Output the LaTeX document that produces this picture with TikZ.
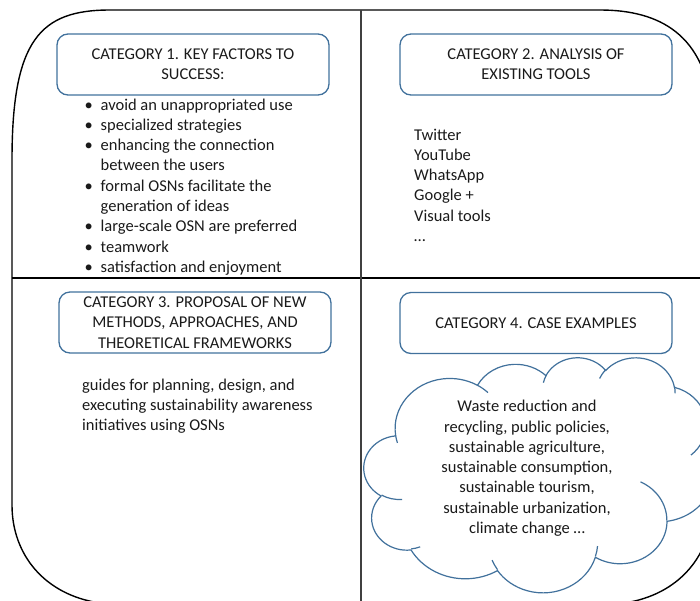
\documentclass[tikz,border=0pt]{standalone}
\usepackage{fontspec}
\setmainfont{Carlito}
\definecolor{boxblue}{HTML}{41719C}
\definecolor{txtcol}{HTML}{1A1A1A}
\definecolor{divgray}{HTML}{404040}
\def\cloudX{364}
\def\cloudY{357}
\def\cloudW{350}
\def\cloudH{235}
% OOXML arcTo: wR hR (1/43200 units), start & sweep (visual degrees)
\newcommand\ooarcset[4]{%
  \pgfmathsetmacro\oorx{#1/432*\cloudW/100}%
  \pgfmathsetmacro\oory{#2/432*\cloudH/100}%
  \pgfmathsetmacro\oodA{atan2(#1*sin(#3),#2*cos(#3))-(#3)}%
  \pgfmathsetmacro\oodA{\oodA-360*round(\oodA/360)}%
  \pgfmathsetmacro\ooeB{(#3)+(#4)}%
  \pgfmathsetmacro\oodB{atan2(#1*sin(\ooeB),#2*cos(\ooeB))-\ooeB}%
  \pgfmathsetmacro\oodB{\oodB-360*round(\oodB/360)}%
  \pgfmathsetmacro\ooa{(#3)+\oodA}%
  \pgfmathsetmacro\oob{\ooeB+\oodB}%
  \global\let\ooRX\oorx \global\let\ooRY\oory
  \global\let\ooA\ooa \global\let\ooB\oob}
\tikzset{
  txtfont/.style={font=\fontsize{16.5}{20.3}\selectfont, text=txtcol, inner sep=0pt},
  catbox/.style={draw=boxblue, line width=1.3pt, rounded corners=11pt,
    minimum width=272pt, minimum height=61pt, align=center, txtfont},
  listtext/.style={txtfont, align=left, anchor=base west},
  cloudtext/.style={txtfont, align=center, anchor=base},
  cloudline/.style={draw=boxblue, line width=1.2pt},
  outerline/.style={draw=black, line width=1.4pt},
  vdivider/.style={draw=divgray, line width=2pt},
  hdivider/.style={draw=black, line width=1.5pt},
  ooarc/.style={start angle=\ooA, end angle=\ooB, x radius=\ooRX, y radius=\ooRY}
}
\newcommand\hookarc[6]{\ooarcset{#3}{#4}{#5}{#6}%
  \draw[cloudline] ({\cloudX+#1/43.2*\cloudW},{\cloudY+#2/43.2*\cloudH}) arc[ooarc];}
\begin{document}
\begin{tikzpicture}[x=1pt, y=1pt, yscale=-1]
\useasboundingbox (0,0) rectangle (700,600);
% outer frame
\draw[outerline] (12,160) -- (12,505) .. controls (12,555) and (45,595) .. (100,603)
  -- (624,603) .. controls (679,595) and (712,555) .. (712,505)
  -- (712,110) .. controls (705,35) and (660,10) .. (600,10)
  -- (110,10) .. controls (40,10) and (12,40) .. (12,160) -- cycle;
% dividers
\coordinate (vtop) at (361,10);
\coordinate (vbot) at (361,603);
\coordinate (hleft) at (12,278);
\coordinate (hright) at (712,278);
\draw[hdivider] (hleft) -- (hright);
\draw[vdivider] (vtop) -- (vbot);
% cloud
\draw[cloudline, fill=white] ({\cloudX+3.900/43.2*\cloudW},{\cloudY+14.370/43.2*\cloudH})
  \pgfextra{\ooarcset{6753}{9190}{-190.487}{123.781}} arc[ooarc]
  \pgfextra{\ooarcset{5333}{7267}{-144.102}{89.945}} arc[ooarc]
  \pgfextra{\ooarcset{4365}{5945}{-145.808}{99.723}} arc[ooarc]
  \pgfextra{\ooarcset{4857}{6595}{-130.986}{117.242}} arc[ooarc]
  \pgfextra{\ooarcset{5333}{7273}{-78.709}{109.027}} arc[ooarc]
  \pgfextra{\ooarcset{6775}{9220}{-46.267}{130.269}} arc[ooarc]
  \pgfextra{\ooarcset{5785}{7867}{0.625}{114.033}} arc[ooarc]
  \pgfextra{\ooarcset{6752}{9215}{22.452}{115.173}} arc[ooarc]
  \pgfextra{\ooarcset{7720}{10543}{66.243}{75.711}} arc[ooarc]
  \pgfextra{\ooarcset{4360}{5918}{-274.942}{146.736}} arc[ooarc]
  \pgfextra{\ooarcset{4345}{5945}{-246.829}{152.519}} arc[ooarc]
  -- cycle;
\hookarc{4.693}{26.177}{4345}{5945}{86.742}{26.430}
\hookarc{6.928}{34.899}{4360}{5918}{73.610}{11.447}
\hookarc{16.478}{39.090}{6752}{9215}{137.624}{14.081}
\hookarc{28.827}{34.751}{6752}{9215}{6.453}{15.998}
\hookarc{34.129}{22.954}{5785}{7867}{-70.292}{70.917}
\hookarc{41.798}{15.354}{5333}{7273}{30.318}{27.752}
\hookarc{38.324}{5.426}{4857}{6595}{-13.744}{14.859}
\hookarc{29.078}{3.952}{4857}{6595}{-149.181}{18.195}
\hookarc{22.141}{4.720}{4365}{5945}{-163.494}{17.686}
\hookarc{14.000}{5.192}{6753}{9190}{-66.707}{12.319}
\hookarc{4.127}{15.789}{6753}{9190}{157.654}{11.858}
% category boxes
\node[catbox] (c1) at (193,64.5) {CATEGORY 1. KEY FACTORS TO\\SUCCESS:};
\node[catbox] (c2) at (536,64.5) {CATEGORY 2. ANALYSIS OF\\EXISTING TOOLS};
\node[catbox] (c3) at (195,322.5) {CATEGORY 3. PROPOSAL OF NEW\\METHODS, APPROACHES, AND\\THEORETICAL FRAMEWORKS};
\node[catbox] (c4) at (536,323) {CATEGORY 4. CASE EXAMPLES};
% texts (anchor = baseline of the last line)
\node[listtext] (l1) at (84.5,272.4) {%
  \makebox[16pt][l]{•}avoid an unappropriated use\\
  \makebox[16pt][l]{•}specialized strategies\\
  \makebox[16pt][l]{•}enhancing the connection\\
  \hspace*{16pt}between the users\\
  \makebox[16pt][l]{•}formal OSNs facilitate the\\
  \hspace*{16pt}generation of ideas\\
  \makebox[16pt][l]{•}large-scale OSN are preferred\\
  \makebox[16pt][l]{•}teamwork\\
  \makebox[16pt][l]{•}satisfaction and enjoyment};
\node[listtext] (l2) at (414,241.5) {Twitter\\YouTube\\WhatsApp\\Google +\\Visual tools\\…};
\node[listtext] (l3) at (82,430.6) {guides for planning, design, and\\executing sustainability awareness\\initiatives using OSNs};
\node[cloudtext] (l4) at (527,533.5) {Waste reduction and\\recycling, public policies,\\sustainable agriculture,\\sustainable consumption,\\sustainable tourism,\\sustainable urbanization,\\climate change …};
\end{tikzpicture}
\end{document}
